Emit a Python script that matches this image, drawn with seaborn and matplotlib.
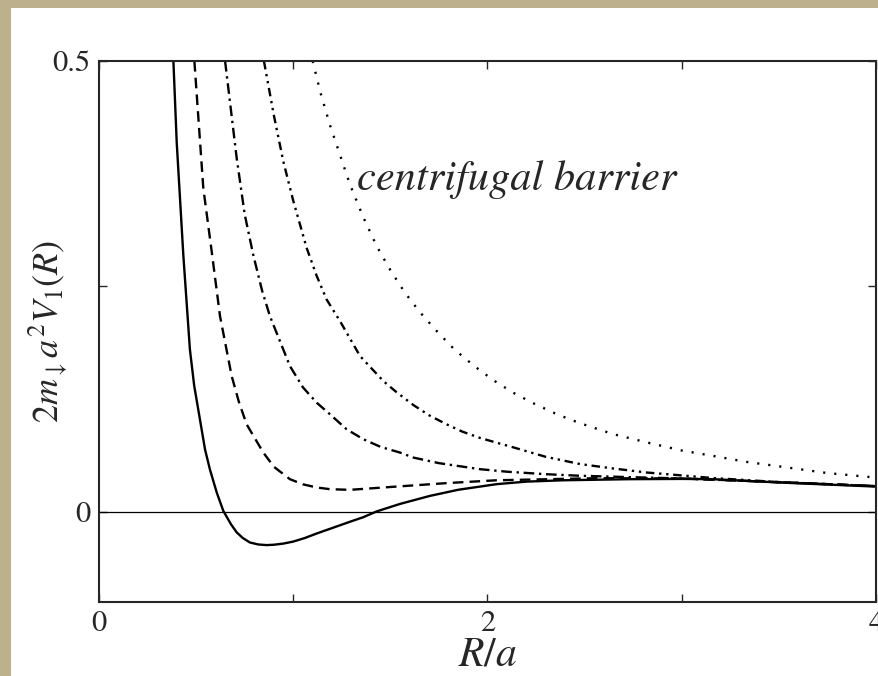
import numpy as np
import pandas as pd
import matplotlib
matplotlib.use("Agg")
import matplotlib.pyplot as plt
from matplotlib.patches import Rectangle
import seaborn as sns

sns.set_style("ticks")
plt.rcParams["font.family"] = ["STIXGeneral", "Liberation Serif", "DejaVu Serif"]
plt.rcParams["mathtext.fontset"] = "stix"

# ── values (R/a, 2 m a^2 V) ───────────────────────────────────────────────────
R_SOLID = [0.383, 0.40, 0.415, 0.434, 0.468, 0.49, 0.52, 0.546, 0.571, 0.606,
           0.64, 0.68, 0.709, 0.74, 0.777, 0.82, 0.863, 0.90, 0.949, 1.0,
           1.06, 1.121, 1.2, 1.292, 1.36, 1.43, 1.55, 1.704, 1.85, 2.047,
           2.2, 2.39, 2.73, 3.0, 3.16, 3.506, 4.0]
V_SOLID = [0.5, 0.41, 0.355, 0.285, 0.18, 0.14, 0.102, 0.069, 0.047, 0.0215,
           0.001, -0.014, -0.0228, -0.029, -0.034, -0.0362, -0.0369, -0.0365, -0.0352, -0.033,
           -0.029, -0.024, -0.018, -0.011, -0.006, 0.0005, 0.0088, 0.0177, 0.0245, 0.0307,
           0.0335, 0.035, 0.0362, 0.0365, 0.0362, 0.0325, 0.028]

R_DASH = [0.491, 0.537, 0.58, 0.623, 0.683, 0.72, 0.76, 0.846, 0.90, 0.983,
          1.05, 1.121, 1.19, 1.292, 1.53, 1.8, 2.047, 2.56, 3.0, 3.5, 4.0]
V_DASH = [0.5, 0.359, 0.289, 0.217, 0.1506, 0.122, 0.097, 0.0657, 0.050, 0.0362,
          0.0305, 0.027, 0.0251, 0.0244, 0.028, 0.032, 0.035, 0.0373, 0.037, 0.033, 0.0285]

R_DASHDOT = [0.649, 0.709, 0.75, 0.794, 0.84, 0.88, 0.983, 1.05, 1.121, 1.19,
             1.275, 1.361, 1.45, 1.55, 1.618, 1.75, 1.961, 2.1, 2.305, 2.476,
             2.73, 3.0, 3.5, 4.0]
V_DASHDOT = [0.5, 0.392, 0.33, 0.285, 0.245, 0.217, 0.1616, 0.138, 0.121, 0.108,
             0.0915, 0.0805, 0.072, 0.0657, 0.0602, 0.054, 0.0473, 0.0445, 0.0417, 0.040,
             0.0385, 0.037, 0.0328, 0.0285]

R_DASHDOTDOT = [0.849, 0.90, 0.949, 1.0, 1.069, 1.12, 1.172, 1.241, 1.344, 1.464,
                1.53, 1.618, 1.7, 1.79, 1.87, 1.961, 2.05, 2.133, 2.3, 2.476,
                2.65, 2.82, 3.16, 3.5, 4.0]
V_DASHDOTDOT = [0.5, 0.44, 0.3885, 0.345, 0.2927, 0.262, 0.2354, 0.2114, 0.1727, 0.145,
                0.133, 0.1185, 0.107, 0.097, 0.089, 0.082, 0.0765, 0.0715, 0.061, 0.053,
                0.048, 0.0436, 0.0375, 0.033, 0.0285]

R_DOT = [1.10, 1.14, 1.189, 1.292, 1.36, 1.43, 1.5, 1.575, 1.65, 1.731,
         1.83, 1.936, 2.03, 2.133, 2.24, 2.347, 2.43, 2.519, 2.65, 2.82,
         3.0, 3.162, 3.33, 3.506, 3.75, 4.0]
V_DOT = [0.5, 0.465, 0.429, 0.363, 0.327, 0.2945, 0.268, 0.243, 0.222, 0.2022,
         0.18, 0.161, 0.146, 0.132, 0.12, 0.1093, 0.102, 0.0952, 0.086, 0.077,
         0.068, 0.062, 0.0555, 0.0503, 0.043, 0.038]

X_TICKS = [0, 1, 2, 3, 4]
X_LABELS = ["0", "", "2", "", "4"]
Y_TICKS = [0, 0.25, 0.5]
Y_LABELS = ["0", "", "0.5"]

DASHES = {
    "solid": "",
    "dash": (4.5, 2.6),
    "dashdot": (4.5, 2.0, 1.0, 2.0),
    "dashdotdot": (3.6, 2.0, 1.0, 2.0, 1.0, 2.0),
    "dot": (0.9, 3.8),
}

frames = []
for name, r, v in [("solid", R_SOLID, V_SOLID), ("dash", R_DASH, V_DASH),
                   ("dashdot", R_DASHDOT, V_DASHDOT),
                   ("dashdotdot", R_DASHDOTDOT, V_DASHDOTDOT),
                   ("dot", R_DOT, V_DOT)]:
    frames.append(pd.DataFrame({"R": r, "V": v, "curve": name}))
df = pd.concat(frames, ignore_index=True)

# ── figure ───────────────────────────────────────────────────────────────────
W, H = 879, 676
fig = plt.figure(figsize=(W / 100, H / 100), dpi=100)
fig.patch.set_facecolor("#bdb08c")
fig.add_artist(Rectangle((11 / W, 0), 1, 1 - 8 / H, transform=fig.transFigure,
                         facecolor="white", edgecolor="none", zorder=-1))
ax = fig.add_axes([99 / W, 1 - 602 / H, 777 / W, 541 / H])
ax.set_facecolor("white")

ax.axhline(0, color="black", lw=0.9, zorder=1)
sns.lineplot(data=df, x="R", y="V", style="curve", dashes=DASHES, color="black",
             lw=1.7, estimator=None, sort=False, legend=False, ax=ax)

ax.set_xlim(0, 4)
ax.set_ylim(-0.1, 0.5)
ax.set_xticks(X_TICKS)
ax.set_xticklabels(X_LABELS)
ax.set_yticks(Y_TICKS)
ax.set_yticklabels(Y_LABELS)
ax.tick_params(direction="in", top=True, right=True, length=6, width=1,
               labelsize=22, pad=6)
for sp in ax.spines.values():
    sp.set_linewidth(1.5)
    sp.set_visible(True)

ax.set_xlabel(r"$R/a$", fontsize=30, labelpad=-1)
ax.set_ylabel(r"$2m_{\downarrow}a^2V_1(R)$", fontsize=26, labelpad=-12)

ax.text(1.327, 0.357, "centrifugal barrier", style="italic", fontsize=30.5,
        ha="left", va="baseline")

plt.savefig("out.png", dpi=100, facecolor=fig.get_facecolor())
plt.close()
